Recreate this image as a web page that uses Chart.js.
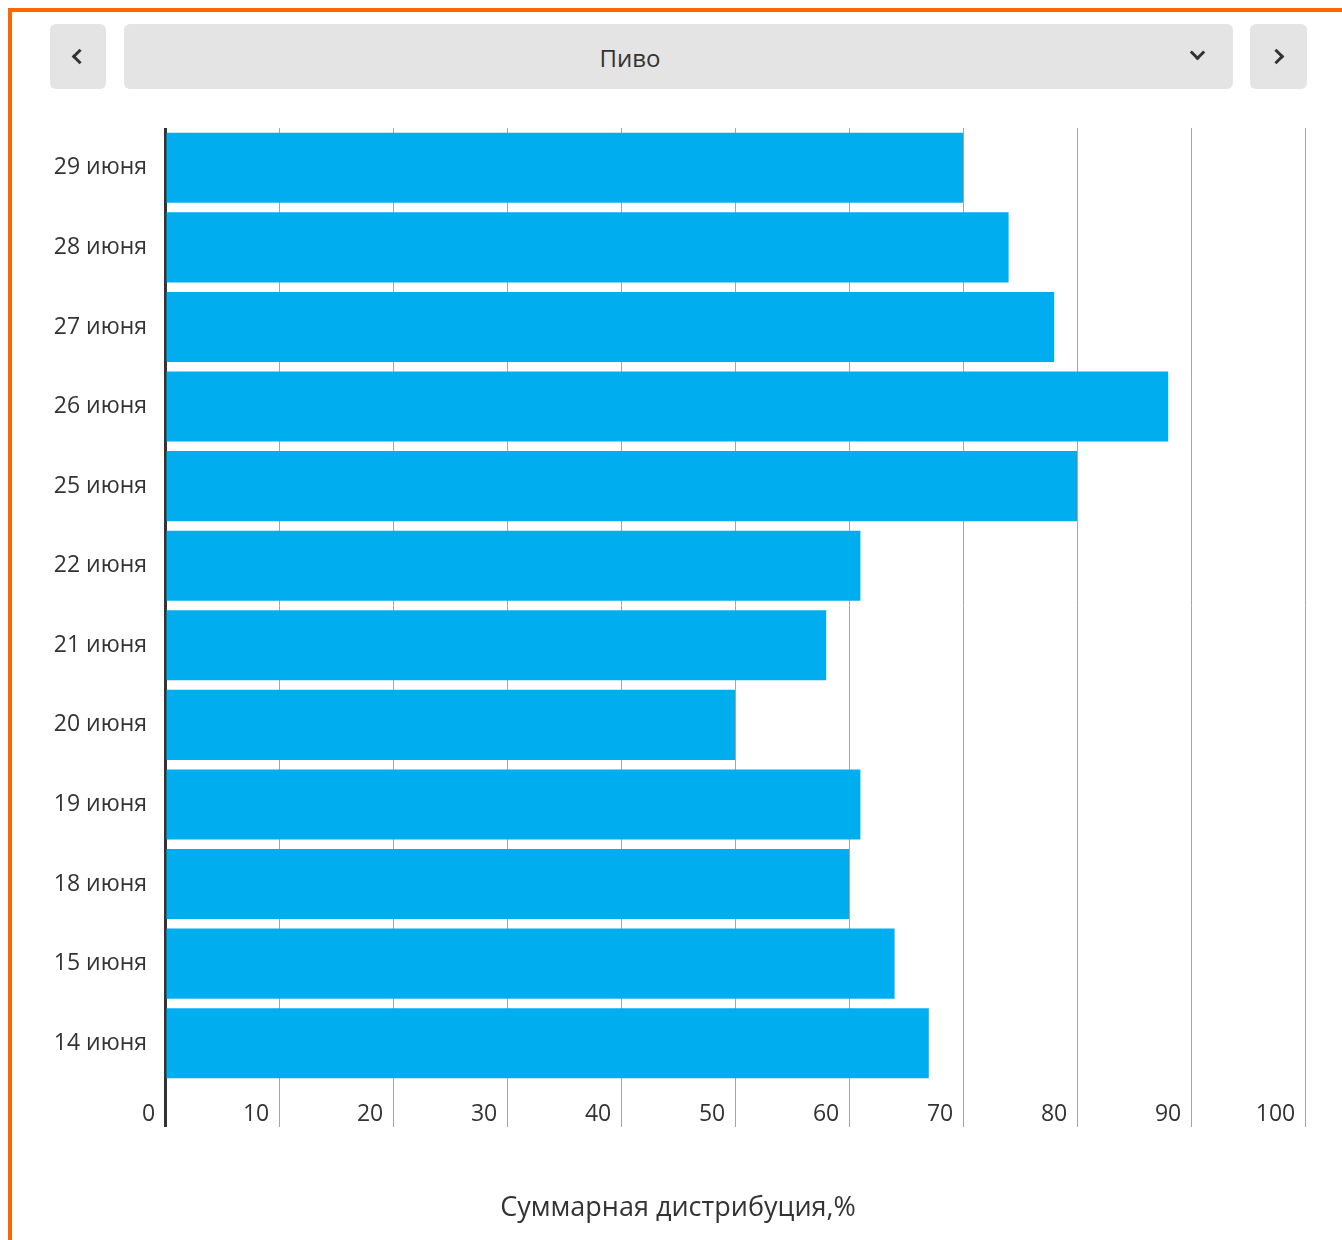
<!DOCTYPE html>
<html lang="ru">
<head>
<meta charset="utf-8">
<title>Пиво</title>
<script src="https://cdn.jsdelivr.net/npm/chart.js@4.4.0/dist/chart.umd.min.js"></script>
<style>
  body { margin: 0; background: #fff; font-family: "Open Sans", sans-serif; color: #333; }
  .frame { position: absolute; left: 8px; top: 8px; right: 0; bottom: 0; border-left: 4px solid #ff6600; border-top: 4px solid #ff6600; }
  .btn { position: absolute; top: 24px; height: 65px; background: #e4e4e4; border-radius: 6px; }
  .chev { position: absolute; width: 8px; height: 8px; border-right: 3px solid #333; border-bottom: 3px solid #333; }
  #title { position: absolute; left: 0; width: 1356px; top: 1187px; text-align: center; font-size: 27px; color: #333; }
  #wrap { position: absolute; left: 12px; top: 100px; width: 1330px; height: 1140px; }
</style>
</head>
<body>
<div class="frame"></div>
<div class="btn" style="left:50px;width:56px"><div class="chev" style="left:24px;top:27px;transform:rotate(135deg)"></div></div>
<div class="btn" style="left:124px;width:1109px">
  <div style="position:absolute;left:0;width:1012px;top:17px;text-align:center;font-size:24px">Пиво</div>
  <div class="chev" style="left:1068px;top:23px;transform:rotate(45deg)"></div>
</div>
<div class="btn" style="left:1250px;width:57px"><div class="chev" style="left:21px;top:27px;transform:rotate(-45deg)"></div></div>

<div id="wrap"><canvas id="barChart"></canvas></div>
<div id="title">Суммарная дистрибуция,%</div>

<script>
// dates, top to bottom
const days = ['29 июня', '28 июня', '27 июня', '26 июня', '25 июня', '22 июня',
              '21 июня', '20 июня', '19 июня', '18 июня', '15 июня', '14 июня'];
// summary distribution, %
const distribution = [70, 74, 78, 88, 80, 61, 58, 50, 61, 60, 64, 67];
// x axis
const axisMin = 0;
const axisMax = 100;
const axisStep = 10;

const ctx = document.getElementById('barChart');

new Chart(ctx, {
    type: 'bar',
    data: {
        labels: days,
        datasets: [{
            data: distribution,
            backgroundColor: '#00aeef',
            borderWidth: 0,
            barPercentage: 0.88,
            categoryPercentage: 1
        }]
    },
    options: {
        indexAxis: 'y',
        responsive: true,
        maintainAspectRatio: false,
        animation: false,
        layout: { padding: { top: 28, right: 37, bottom: 0, left: 0 } },
        plugins: {
            legend: { display: false },
            tooltip: { enabled: false }
        },
        scales: {
            x: {
                min: axisMin,
                max: axisMax,
                border: { display: false },
                grid: {
                    color: c => c.tick && c.tick.value === 0 ? '#333' : '#a6a6a6',
                    lineWidth: c => c.tick && c.tick.value === 0 ? 3 : 1,
                    tickLength: 44
                },
                ticks: {
                    stepSize: axisStep,
                    align: 'end',
                    padding: -26,
                    color: '#333',
                    font: { family: 'Open Sans', size: 23 },
                    callback: v => v + ' \u2009'
                },
                afterFit: s => { s.height = 157; }
            },
            y: {
                border: { display: false },
                grid: { display: false, drawTicks: false },
                ticks: {
                    padding: 18,
                    color: '#333',
                    font: { family: 'Open Sans', size: 23 }
                },
                afterFit: s => {
                    s.width = 153;
                    s.paddingTop = 0;
                    s.paddingBottom = 0;
                }
            }
        }
    }
});
</script>
</body>
</html>
